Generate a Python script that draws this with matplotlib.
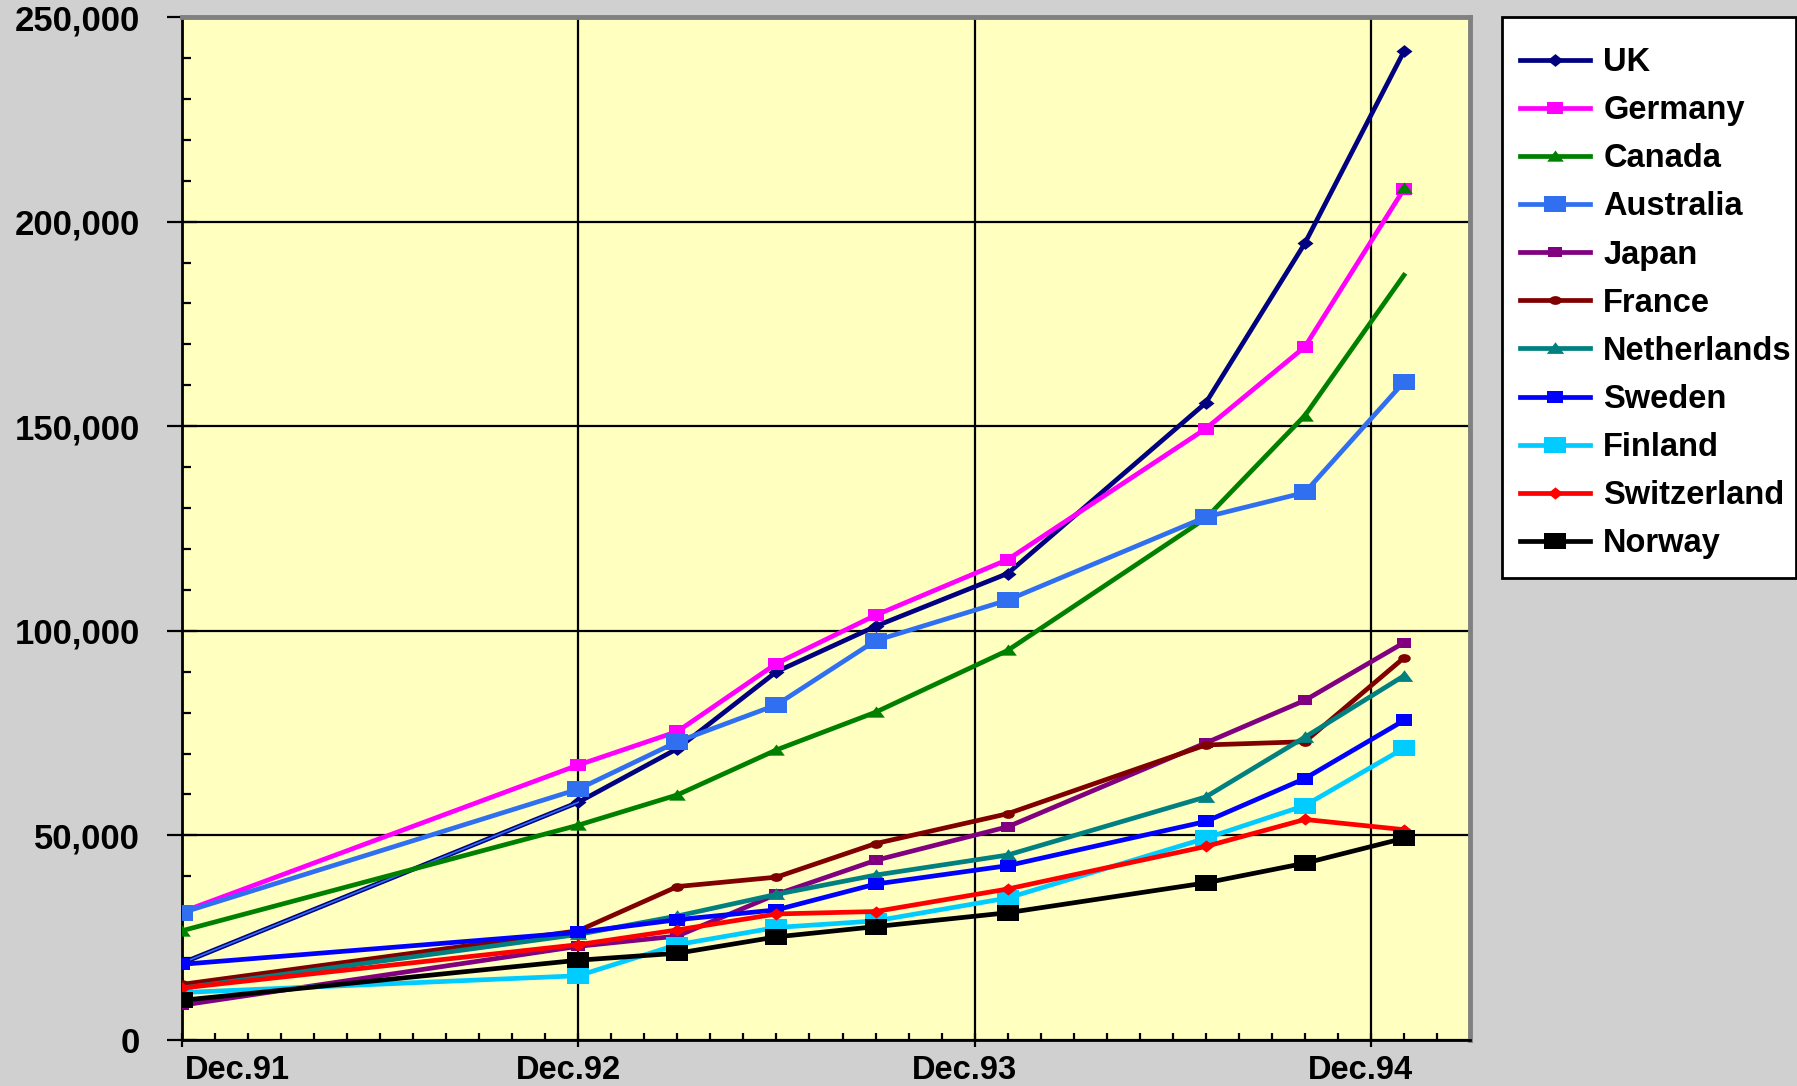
import matplotlib
matplotlib.use("Agg")
import matplotlib.pyplot as plt
import matplotlib.transforms as mtransforms
from matplotlib.patches import Rectangle
from matplotlib.path import Path
from matplotlib.ticker import MultipleLocator, FuncFormatter

# ---- data (months since Dec.91) ----
months = [0, 12, 15, 18, 21, 25, 31, 34, 37]
tick_months = [0, 12, 24, 36]
tick_labels = ["Dec.91", "Dec.92", "Dec.93", "Dec.94"]

uk = [18800, 58100, 71200, 90000, 101100, 114000, 155700, 194700, 241600]
germany = [31300, 67200, 75400, 92000, 103800, 117400, 149400, 169400, 207950]
canada = [26700, 52500, 59900, 70900, 80100, 95200, 127500, 152600, 186900]
canada_extra_marker = 208200
australia = [31100, 61300, 72900, 81900, 97600, 107500, 127800, 133800, 160800]
japan = [8500, 22900, 25400, 35600, 43900, 52100, 72600, 83000, 97100]
france = [13600, 26700, 37500, 39800, 48000, 55300, 72100, 72900, 93400]
netherlands = [12700, 25800, 30300, 35600, 40300, 45200, 59400, 74000, 89000]
sweden = [18500, 26300, 29400, 31800, 38100, 42600, 53400, 63900, 78100]
finland = [11600, 15700, 23300, 27500, 29100, 34700, 49300, 57300, 71300]
switzerland = [12700, 23300, 26900, 30800, 31400, 36900, 47300, 53900, 51400]
norway = [9700, 19500, 21200, 25200, 27700, 31100, 38400, 43200, 49300]

# horizontally stretched marker shapes (as in the original)
RECT = Path([(-1, -0.74), (1, -0.74), (1, 0.74), (-1, 0.74), (-1, -0.74)], closed=True)
DIAM = Path([(-1, 0), (0, 0.8), (1, 0), (0, -0.8), (-1, 0)], closed=True)
TRI = Path([(-1, -0.62), (1, -0.62), (0, 0.72), (-1, -0.62)], closed=True)
ELL = Path.unit_circle().transformed(mtransforms.Affine2D().scale(1.0, 0.7))

series = [
    ("UK", uk, "#000080", DIAM, 11.5),
    ("Germany", germany, "#FF00FF", RECT, 11),
    ("Canada", canada, "#008000", TRI, 12),
    ("Australia", australia, "#3070F0", RECT, 16),
    ("Japan", japan, "#800080", RECT, 10.5),
    ("France", france, "#800000", ELL, 9),
    ("Netherlands", netherlands, "#008080", TRI, 12.5),
    ("Sweden", sweden, "#0000FF", RECT, 11),
    ("Finland", finland, "#00CCFF", RECT, 16),
    ("Switzerland", switzerland, "#FF0000", DIAM, 11),
    ("Norway", norway, "#000000", RECT, 16),
]

plt.rcParams["font.family"] = ["Liberation Sans", "DejaVu Sans"]
plt.rcParams["font.weight"] = "bold"

W, H = 1797, 1086
fig = plt.figure(figsize=(W / 100, H / 100), dpi=100, facecolor="#D0D0D0")
ax = fig.add_axes([182 / W, 46 / H, (1470 - 182) / W, (1040 - 17) / H])
ax.set_facecolor("#FFFFC0")

LW = 3.4
handles = []
for name, vals, col, mk, ms in series:
    if name == "Canada":
        line, = ax.plot(months, vals, color=col, lw=LW, marker=mk, ms=ms,
                        markevery=list(range(len(months) - 1)),
                        markeredgewidth=0, label=name, zorder=3)
        ax.plot([months[-1]], [canada_extra_marker], linestyle="none", marker=mk,
                ms=ms, color=col, markeredgewidth=0, zorder=3)
    else:
        line, = ax.plot(months, vals, color=col, lw=LW, marker=mk, ms=ms,
                        markeredgewidth=0, label=name, zorder=3)
    if name == "UK":
        ax.plot(months[:2], vals[:2], color="#3070F0", lw=1.2, zorder=3)
    handles.append(line)

ax.set_xlim(0, 39)
ax.set_ylim(0, 250000)

ax.set_xticks(tick_months)
ax.set_xticklabels(tick_labels)
ax.xaxis.set_minor_locator(MultipleLocator(1))
ax.yaxis.set_major_locator(MultipleLocator(50000))
ax.yaxis.set_minor_locator(MultipleLocator(10000))
ax.yaxis.set_major_formatter(FuncFormatter(lambda v, p: f"{int(v):,}"))

ax.grid(True, which="major", color="black", lw=1.6)
ax.set_axisbelow(True)

ax.tick_params(axis="y", which="major", direction="inout", length=21, width=1.6,
               pad=20, labelsize=25)
ax.tick_params(axis="y", which="minor", direction="in", length=6.5, width=1.6)
ax.tick_params(axis="x", which="major", direction="inout", length=10, width=1.6,
               pad=6, labelsize=23.5)
ax.tick_params(axis="x", which="minor", direction="in", length=5, width=1.6)

for lab in ax.get_yticklabels():
    lab.set_fontweight("bold")
for i, lab in enumerate(ax.get_xticklabels()):
    lab.set_fontweight("bold")
    if i == 0:
        lab.set_horizontalalignment("left")
        off = mtransforms.ScaledTranslation(3 / 100, 0, fig.dpi_scale_trans)
    else:
        off = mtransforms.ScaledTranslation(-10 / 100, 0, fig.dpi_scale_trans)
    lab.set_transform(lab.get_transform() + off)

for s in ["left", "bottom"]:
    ax.spines[s].set_color("black")
    ax.spines[s].set_linewidth(2)
for s in ["top", "right"]:
    ax.spines[s].set_color("#808080")
    ax.spines[s].set_linewidth(3.5)

# legend frame drawn as a box, entries placed inside it
fig.patches.append(Rectangle((1502 / W, 1 - 578 / H), 294 / W, 561 / H,
                             transform=fig.transFigure, facecolor="white",
                             edgecolor="black", linewidth=2, zorder=1))
leg = fig.legend(handles=handles, loc="upper left",
                 bbox_to_anchor=(1520 / W, 1 - 47 / H),
                 frameon=False,
                 prop={"weight": "bold", "size": 23.5},
                 borderpad=0, labelspacing=0.525, handlelength=2.15,
                 handletextpad=0.4, borderaxespad=0)
leg.set_zorder(2)

fig.savefig("out.png", dpi=100, facecolor=fig.get_facecolor())
